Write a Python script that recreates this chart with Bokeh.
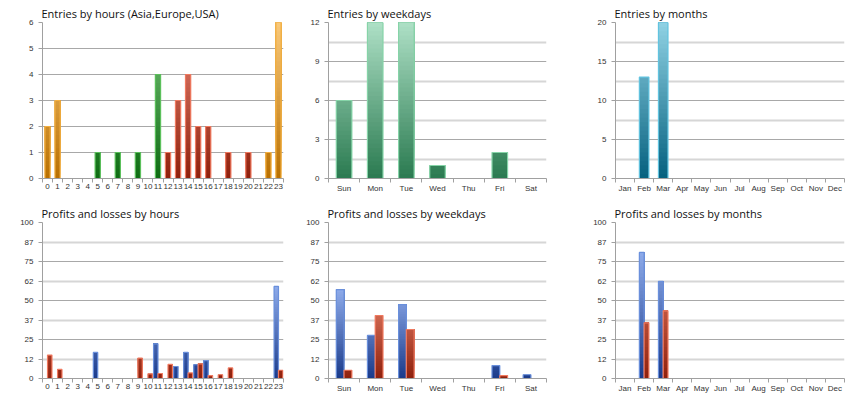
from bokeh.plotting import figure
from bokeh.layouts import column, row
from bokeh.models import Range1d, FixedTicker
from bokeh.embed import file_html
from bokeh.resources import INLINE

# ---------------- data ----------------
hours = [str(h) for h in range(24)]
hour_entries = [2, 3, 0, 0, 0, 1, 0, 1, 0, 1, 0, 4, 1, 3, 4, 2, 2, 0, 1, 0, 1, 0, 1, 6]
hour_region = ["Asia"] * 5 + ["Europe"] * 7 + ["USA"] * 9 + ["Asia"] * 3

weekdays = ["Sun", "Mon", "Tue", "Wed", "Thu", "Fri", "Sat"]
weekday_entries = [6, 12, 12, 1, 0, 2, 0]

months = ["Jan", "Feb", "Mar", "Apr", "May", "Jun", "Jul", "Aug", "Sep", "Oct", "Nov", "Dec"]
month_entries = [0, 13, 20, 0, 0, 0, 0, 0, 0, 0, 0, 0]

hour_profits = [0, 0, 0, 0, 0, 16.7, 0, 0, 0, 0, 0, 22.2, 0, 7.7, 16.7, 8.8, 11.5, 0, 0, 0, 0, 0, 0, 59]
hour_losses = [15, 5.8, 0, 0, 0, 0, 0, 0, 0, 13, 3, 3.2, 9, 0, 3.6, 9.4, 1.9, 2.4, 6.8, 0, 0, 0, 0, 5.3]
weekday_profits = [57, 27.6, 47.4, 0, 0, 8.3, 2.4]
weekday_losses = [5.3, 40.4, 31.4, 0, 0, 1.9, 0]
month_profits = [0, 80.8, 62.2, 0, 0, 0, 0, 0, 0, 0, 0, 0]
month_losses = [0, 35.7, 43.4, 0, 0, 0, 0, 0, 0, 0, 0, 0]

entry_hour_ticks = [0, 1, 2, 3, 4, 5, 6]
weekday_ticks = [0, 3, 6, 9, 12]
month_ticks = [0, 5, 10, 15, 20]
pl_ticks = [0, 12.5, 25, 37.5, 50, 62.5, 75, 87.5, 100]
pl_tick_labels = ["0", "12", "25", "37", "50", "62", "75", "87", "100"]

# ---------------- styles ----------------
REGION_STYLE = {
    "Asia": ("#f9c97c", "#b86f00", "#f5b040"),
    "Europe": ("#7cc67c", "#0d6b12", "#5cc05c"),
    "USA": ("#ec8a78", "#8e200c", "#f07a60"),
}
WEEK_STYLE = ("#aee0c6", "#2a7a50", "#86d4a8")
MONTH_STYLE = ("#90d2e4", "#05607e", "#62c4e0")
PROFIT_STYLE = ("#8eabea", "#1a3a8a", "#6a90dc")
LOSS_STYLE = ("#e8826a", "#8e200c", "#f07a60")

TITLE_FONT = "Open Sans"
TICK_FONT = "Liberation Sans"


def hex2rgb(h):
    h = h.lstrip("#")
    return tuple(int(h[i:i + 2], 16) for i in (0, 2, 4))


def mix(top, bottom, t):
    a, b = hex2rgb(top), hex2rgb(bottom)
    c = [round(b[i] + (a[i] - b[i]) * t) for i in range(3)]
    return "#%02x%02x%02x" % tuple(c)


def gradient_bars(p, centers, values, width, styles, vmax, n=36):
    L, R, B, T, C = [], [], [], [], []
    oL, oR, oT, oC = [], [], [], []
    step = vmax / n
    for c, v, st in zip(centers, values, styles):
        if v <= 0:
            continue
        top_c, bot_c, out_c = st
        k = 0
        while k * step < v:
            e = k * step
            mid = (e + min(e + step, v)) / 2.0
            L.append(c - width / 2); R.append(c + width / 2)
            B.append(e); T.append(v)
            C.append(mix(top_c, bot_c, min(mid / vmax, 1.0)))
            k += 1
        oL.append(c - width / 2); oR.append(c + width / 2); oT.append(v); oC.append(out_c)
    p.quad(left=L, right=R, bottom=B, top=T, fill_color=C, line_color=None)
    p.quad(left=oL, right=oR, bottom=[0] * len(oL), top=oT, fill_color=None,
           line_color=oC, line_width=1.2)


def make_fig(title, w, h, ml, mr, mt, mb, labels, ymax, yticks, ylabels, gmajor, gminor):
    n = len(labels)
    p = figure(width=w, height=h, x_range=Range1d(-0.5, n - 0.5), y_range=Range1d(0, ymax),
               output_backend="svg", toolbar_location=None,
               min_border_left=ml, min_border_right=mr, min_border_top=mt, min_border_bottom=mb)
    p.title.text = title
    p.title.text_font = TITLE_FONT
    p.title.text_font_size = "11px"
    p.title.text_font_style = "normal"
    p.title.text_color = "#111111"
    p.title.standoff = 3
    p.title.offset = -1
    p.outline_line_color = None
    p.background_fill_color = "white"
    p.border_fill_color = "white"

    p.xgrid.visible = False
    p.ygrid.ticker = FixedTicker(ticks=gmajor, minor_ticks=gminor)
    p.ygrid.grid_line_color = "#a8a8a8"
    p.ygrid.grid_line_width = 1
    p.ygrid.minor_grid_line_color = "#d6d6d6"
    p.ygrid.minor_grid_line_width = 2

    xa = p.xaxis[0]
    xa.ticker = FixedTicker(ticks=list(range(n)), minor_ticks=[i - 0.5 for i in range(n + 1)])
    xa.major_label_overrides = {i: lab for i, lab in enumerate(labels)}
    xa.major_tick_out = 0
    xa.major_tick_in = 0
    xa.minor_tick_out = 4
    xa.minor_tick_in = 0
    xa.minor_tick_line_color = "#a0a0a0"
    xa.axis_line_color = "#a0a0a0"
    xa.major_label_text_font = TICK_FONT
    xa.major_label_text_font_size = "8px"
    xa.major_label_text_color = "#333333"
    xa.major_label_standoff = 1

    ya = p.yaxis[0]
    ya.ticker = FixedTicker(ticks=yticks, minor_ticks=[])
    ya.major_label_overrides = {t: l for t, l in zip(yticks, ylabels)}
    ya.major_tick_out = 4
    ya.major_tick_in = 0
    ya.major_tick_line_color = "#a0a0a0"
    ya.minor_tick_out = 0
    ya.minor_tick_in = 0
    ya.axis_line_color = "#a0a0a0"
    ya.major_label_text_font = TICK_FONT
    ya.major_label_text_font_size = "8px"
    ya.major_label_text_color = "#333333"
    ya.major_label_standoff = 5
    return p


# ---------------- top row ----------------
H1 = 198
H2 = 197
f1 = make_fig("Entries by hours (Asia,Europe,USA)", 290, H1, 42, 7, 22, 20, hours, 6,
              entry_hour_ticks, [str(t) for t in entry_hour_ticks], entry_hour_ticks, [])
gradient_bars(f1, list(range(24)), hour_entries, 0.52,
              [REGION_STYLE[r] for r in hour_region], max(hour_entries))

f2 = make_fig("Entries by weekdays", 287, H1, 38, 31, 22, 20, weekdays, 12,
              weekday_ticks, [str(t) for t in weekday_ticks], weekday_ticks, [1.5, 4.5, 7.5, 10.5])
gradient_bars(f2, list(range(7)), weekday_entries, 0.5, [WEEK_STYLE] * 7, max(weekday_entries))

f3 = make_fig("Entries by months", 275, H1, 38, 8, 22, 20, months, 20,
              month_ticks, [str(t) for t in month_ticks], month_ticks, [2.5, 7.5, 12.5, 17.5])
gradient_bars(f3, list(range(12)), month_entries, 0.5, [MONTH_STYLE] * 12, max(month_entries))

# ---------------- bottom row ----------------
pl_major = [0, 25, 50, 75, 100]
pl_minor = [12.5, 37.5, 62.5, 87.5]

f4 = make_fig("Profits and losses by hours", 290, H2, 42, 7, 24, 16, hours, 100,
              pl_ticks, pl_tick_labels, pl_major, pl_minor)
vmax4 = max(hour_profits + hour_losses)
gradient_bars(f4, [i - 0.22 for i in range(24)], hour_profits, 0.44, [PROFIT_STYLE] * 24, vmax4)
gradient_bars(f4, [i + 0.22 for i in range(24)], hour_losses, 0.44, [LOSS_STYLE] * 24, vmax4)

f5 = make_fig("Profits and losses by weekdays", 287, H2, 38, 31, 24, 16, weekdays, 100,
              pl_ticks, pl_tick_labels, pl_major, pl_minor)
vmax5 = max(weekday_profits + weekday_losses)
gradient_bars(f5, [i - 0.125 for i in range(7)], weekday_profits, 0.25, [PROFIT_STYLE] * 7, vmax5)
gradient_bars(f5, [i + 0.125 for i in range(7)], weekday_losses, 0.25, [LOSS_STYLE] * 7, vmax5)

f6 = make_fig("Profits and losses by months", 275, H2, 38, 8, 24, 16, months, 100,
              pl_ticks, pl_tick_labels, pl_major, pl_minor)
vmax6 = max(month_profits + month_losses)
gradient_bars(f6, [i - 0.125 for i in range(12)], month_profits, 0.25, [PROFIT_STYLE] * 12, vmax6)
gradient_bars(f6, [i + 0.125 for i in range(12)], month_losses, 0.25, [LOSS_STYLE] * 12, vmax6)

layout = column(row(f1, f2, f3), row(f4, f5, f6))
open("out.html", "w").write(file_html(layout, INLINE))
